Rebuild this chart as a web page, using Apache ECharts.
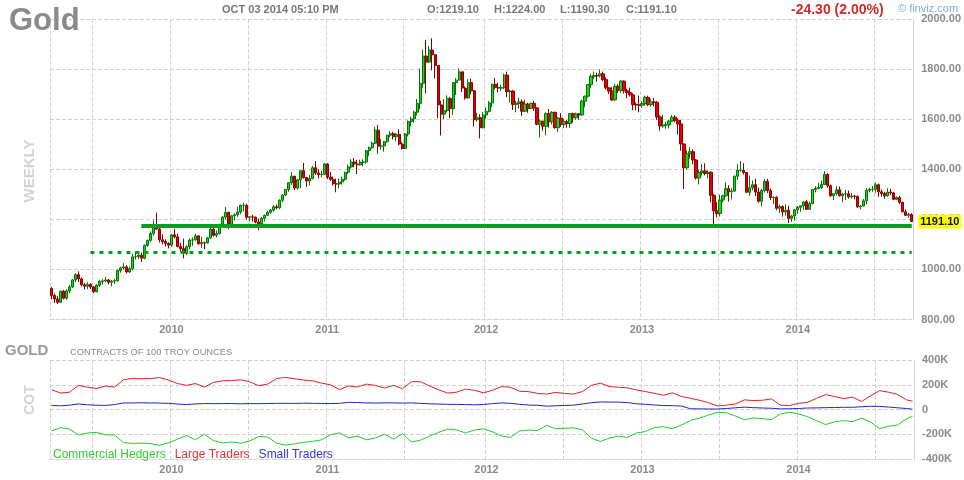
<!DOCTYPE html>
<html><head><meta charset="utf-8">
<script src="https://cdn.jsdelivr.net/npm/echarts@6/dist/echarts.min.js"></script>
<style>html,body{margin:0;padding:0;background:#fff}#c{width:964px;height:480px}</style>
</head><body><div id="c"></div>
<script>
// ---- weekly gold futures, week starting Monday 2009-03-30 ----
const firstWeekMonday = '2009-03-30';
const opens = [
924,896,882,869,913,885,914,930,958,979,962,939,933,940,930,911,937,952,954,958,949,953,955,996,1006,1010,990,1003,1050,1051,1057,1045,1096,1116,1143,1175,1161,1118,1111,1104,
1097,1138,1130,1092,1083,1064,1091,1117,1118,1134,1102,1107,1106,1126,1161,1136,1143,1180,1209,1228,1177,1214,1218,1229,1256,1256,1208,1210,1209,1189,1181,1204,1216,1228,1237,1250,1246,1276,1297,1319,1346,1372,1325,1358,1394,1367,1353,1363,1406,1385,1379,1380,
1421,1369,1360,1342,1341,1349,1360,1388,1409,1429,1421,1418,1428,1429,1474,1486,1504,1556,1492,1493,1510,1536,1542,1530,1539,1501,1483,1541,1591,1601,1628,1663,1743,1852,1828,1876,1857,1814,1657,1620,1635,1683,1642,1746,1756,1789,1724,1685,1746,1713,1598,1606,
1566,1617,1631,1665,1739,1726,1724,1726,1776,1710,1712,1659,1663,1669,1632,1660,1643,1663,1645,1580,1592,1572,1622,1590,1627,1566,1604,1579,1590,1583,1622,1606,1621,1617,1672,1692,1738,1771,1774,1773,1781,1758,1725,1712,1677,1731,1715,1752,1713,1706,1697,1658,
1657,1656,1662,1687,1658,1669,1667,1609,1573,1577,1577,1592,1608,1596,1581,1501,1406,1462,1470,1437,1365,1387,1393,1383,1388,1296,1234,1223,1277,1294,1322,1310,1313,1372,1396,1396,1387,1308,1326,1338,1309,1272,1315,1352,1315,1287,1288,1244,1251,1230,1236,1204,
1213,1238,1248,1254,1270,1240,1263,1319,1324,1327,1339,1379,1334,1294,1303,1318,1294,1301,1302,1290,1293,1292,1250,1253,1274,1316,1320,1320,1338,1310,1303,1294,1309,1306,1280,1287,1268,1230,1216,1219.1
];
const highs = [
930,904,893,915,918,920,938,962,985,992,968,946,949,945,934,941,958,961,970,962,958,961,999,1011,1025,1017,1011,1062,1072,1070,1067,1100,1119,1152,1196,1227,1165,1141,1120,1108,
1141,1162,1142,1106,1123,1096,1124,1128,1142,1136,1130,1111,1130,1168,1170,1156,1182,1212,1249,1230,1217,1224,1250,1259,1266,1262,1213,1218,1211,1203,1210,1219,1234,1242,1257,1260,1280,1301,1320,1349,1388,1374,1362,1398,1425,1369,1377,1413,1432,1401,1394,1424,
1424,1389,1371,1362,1363,1370,1390,1418,1440,1445,1438,1438,1440,1477,1491,1511,1569,1577,1521,1513,1538,1552,1550,1545,1559,1509,1545,1595,1610,1633,1681,1802,1878,1917,1892,1923,1859,1815,1673,1680,1695,1689,1748,1764,1803,1789,1731,1760,1763,1716,1625,1620,
1628,1648,1673,1742,1764,1745,1737,1782,1790,1718,1716,1673,1686,1679,1678,1666,1666,1673,1647,1599,1593,1628,1641,1632,1630,1608,1624,1602,1597,1625,1626,1626,1625,1677,1694,1741,1779,1790,1786,1798,1790,1767,1727,1728,1741,1739,1755,1755,1722,1726,1704,1667,
1694,1671,1694,1694,1681,1684,1673,1616,1618,1589,1597,1616,1616,1604,1597,1503,1476,1488,1480,1441,1398,1421,1424,1396,1392,1302,1269,1298,1298,1348,1336,1324,1375,1420,1433,1424,1389,1375,1355,1362,1327,1323,1361,1362,1323,1292,1292,1259,1256,1260,1255,1217,
1241,1253,1256,1271,1278,1270,1320,1332,1346,1355,1392,1385,1339,1303,1332,1331,1306,1317,1315,1306,1298,1295,1257,1281,1325,1326,1333,1347,1343,1319,1310,1324,1322,1308,1292,1294,1270,1239,1226,1224
];
const lows = [
881,866,862,866,880,879,906,925,950,950,932,920,922,922,905,908,930,940,950,940,932,942,951,987,1000,984,986,997,1040,1041,1030,1040,1090,1110,1136,1160,1107,1100,1091,1084,
1090,1124,1088,1071,1044,1057,1080,1094,1115,1100,1087,1081,1103,1122,1131,1128,1140,1166,1200,1160,1175,1196,1210,1221,1232,1198,1192,1191,1184,1157,1178,1192,1213,1222,1230,1240,1240,1268,1293,1310,1338,1317,1318,1324,1362,1330,1335,1360,1378,1363,1368,1377,
1361,1353,1335,1308,1324,1339,1354,1381,1403,1408,1381,1414,1412,1422,1453,1482,1501,1462,1478,1470,1506,1527,1519,1512,1495,1478,1482,1531,1571,1586,1615,1640,1726,1703,1824,1795,1763,1604,1535,1600,1627,1604,1617,1697,1755,1708,1678,1682,1700,1571,1590,1523,
1563,1603,1627,1648,1719,1707,1713,1720,1688,1667,1636,1627,1642,1613,1628,1625,1641,1633,1576,1527,1553,1536,1566,1579,1562,1549,1569,1565,1566,1565,1586,1598,1598,1614,1648,1686,1725,1760,1750,1767,1752,1718,1701,1673,1674,1705,1705,1702,1684,1690,1636,1635,
1627,1645,1654,1652,1650,1651,1597,1554,1566,1562,1563,1589,1588,1539,1474,1321,1399,1442,1420,1359,1339,1375,1375,1364,1268,1180,1207,1211,1267,1290,1271,1280,1309,1358,1390,1379,1306,1294,1316,1293,1267,1251,1307,1305,1277,1262,1236,1226,1211,1215,1185,1190,
1195,1222,1230,1238,1238,1238,1260,1307,1320,1321,1337,1326,1290,1277,1295,1291,1268,1277,1283,1283,1280,1245,1240,1251,1260,1307,1310,1306,1290,1290,1282,1290,1297,1276,1276,1262,1228,1214,1207,1190.3
];
const closes = [
896,882,869,913,885,914,930,958,979,962,939,933,940,930,911,937,952,954,958,949,953,955,996,1006,1010,990,1003,1050,1051,1057,1045,1096,1116,1143,1175,1161,1118,1111,1104,1097,
1138,1130,1092,1083,1064,1091,1117,1118,1134,1102,1107,1106,1126,1161,1136,1143,1180,1209,1228,1177,1214,1218,1229,1256,1256,1208,1210,1209,1189,1181,1204,1216,1228,1237,1250,1246,1276,1297,1319,1346,1372,1325,1358,1394,1367,1353,1363,1406,1385,1379,1380,1421,
1369,1360,1342,1341,1349,1360,1388,1409,1429,1421,1418,1428,1429,1474,1486,1504,1556,1492,1493,1510,1536,1542,1530,1539,1501,1483,1541,1591,1601,1628,1663,1743,1852,1828,1876,1857,1814,1657,1620,1635,1683,1642,1746,1756,1789,1724,1685,1746,1713,1598,1606,1566,
1617,1631,1665,1739,1726,1724,1726,1776,1710,1712,1659,1663,1669,1632,1660,1643,1663,1645,1580,1592,1572,1622,1590,1627,1566,1604,1579,1590,1583,1622,1606,1621,1617,1672,1692,1738,1771,1774,1773,1781,1758,1725,1712,1677,1731,1715,1752,1713,1706,1697,1658,1657,
1656,1662,1687,1658,1669,1667,1609,1573,1577,1577,1592,1608,1596,1581,1501,1406,1462,1470,1437,1365,1387,1393,1383,1388,1296,1234,1223,1277,1294,1322,1310,1313,1372,1396,1396,1387,1308,1326,1338,1309,1272,1315,1352,1315,1287,1288,1244,1251,1230,1236,1204,1213,
1238,1248,1254,1270,1240,1263,1319,1324,1327,1339,1379,1334,1294,1303,1318,1294,1301,1302,1290,1293,1292,1250,1253,1274,1316,1320,1320,1338,1310,1303,1294,1309,1306,1280,1287,1268,1230,1216,1219,1191.1
];
// drawn horizontal levels
const supportLevel = 1174;      // thick solid line
const supportStartWeek = 30;
const lowerLevel = 1070;        // dotted line
const lowerStartWeek = 13;

// ---- COT (thousands of contracts), sampled every 3rd week plus the last week ----
const cotCommercial = [-173,-147,-158,-205,-190,-185,-205,-205,-267,-274,-272,-275,-290,-270,-240,-210,-245,-200,-252,-270,
-262,-272,-255,-218,-222,-272,-288,-278,-265,-258,-245,-205,-188,-230,-215,-245,-230,-200,-240,-195,
-262,-248,-215,-185,-158,-165,-190,-165,-157,-180,-215,-225,-173,-166,-170,-128,-155,-152,-147,-165,
-232,-259,-230,-215,-225,-190,-178,-145,-140,-155,-125,-88,-70,-45,-22,-27,-53,-83,-68,-74,
-82,-35,-22,-35,-58,-90,-122,-100,-90,-98,-70,-100,-155,-135,-125,-75,-55];
const cotLarge = [160,133,140,195,180,170,190,181,240,252,248,250,258,238,210,195,210,181,219,232,
234,240,225,192,205,250,260,248,238,232,213,200,160,190,182,205,195,173,195,168,
225,225,190,160,133,140,165,155,135,155,185,180,147,145,130,125,138,130,125,145,
195,213,185,180,175,158,145,130,115,135,105,90,75,55,28,35,45,78,72,75,
85,35,32,50,58,90,120,105,88,100,65,110,152,140,122,78,67];
const cotSmall = [32,30,35,45,38,35,33,40,53,53,54,53,52,50,44,40,45,48,47,48,
48,46,48,47,48,50,50,49,51,50,49,48,50,58,56,53,52,54,53,52,
53,50,46,44,42,41,40,38,40,48,53,50,42,36,34,27,30,33,35,45,
55,61,60,60,56,46,42,36,32,31,28,6,5,4,4,8,14,19,15,12,
10,5,6,8,12,13,15,16,18,18,22,26,25,20,14,8,2];
const cotNames = ['Commercial Hedgers','Large Traders','Small Traders'];

// ---- header texts ----
const headerDate = 'OCT 03 2014 05:10 PM';
const headerOHLC = ['O:1219.10','H:1224.00','L:1190.30','C:1191.10'];
const headerChange = '-24.30 (2.00%)';

// ---------------------------------------------------------------
const FONT = '"Liberation Sans", Arial, Helvetica, sans-serif';
const GRAY = '#8a8a8a';
const GRID_LINE = '#d2d2d2';
const DAY = 86400000;
const t0 = Date.parse(firstWeekMonday + 'T00:00:00Z');
const weekDates = closes.map((_, i) => new Date(t0 + i * 7 * DAY));
const categories = weekDates.map(d => d.toISOString().slice(0, 10));
function isHalfYearMark(i) {
  const d = weekDates[i];
  if (!d) return false;
  const m = d.getUTCMonth(), day = d.getUTCDate();
  return (m === 0 || m === 6) && day >= 3 && day <= 9;
}
function isYearMark(i) { return isHalfYearMark(i) && weekDates[i].getUTCMonth() === 0; }
const last = closes.length - 1;
const candleData = closes.map((c, i) => [opens[i], c, lows[i], highs[i]]);
const cotWeeks = cotLarge.map((_, k) => k < cotLarge.length - 1 ? k * 3 : last);
function spread(vals) {
  const a = new Array(closes.length).fill(null);
  cotWeeks.forEach((w, k) => { a[w] = vals[k]; });
  return a;
}

function makeX(gridIndex) {
  return {
    type: 'category', gridIndex, data: categories, boundaryGap: true,
    axisLine: { show: true, onZero: false, lineStyle: { color: GRID_LINE, type: 'dashed' } },
    axisTick: { show: false },
    axisLabel: {
      interval: (i) => isYearMark(i), formatter: (v) => v.slice(0, 4),
      color: GRAY, fontFamily: FONT, fontWeight: 'bold', fontSize: 11, margin: 5
    },
    splitLine: { show: true, interval: (i) => i === 0 || isHalfYearMark(i),
      lineStyle: { color: GRID_LINE, type: 'dashed', width: 1 } }
  };
}

const chart = echarts.init(document.getElementById('c'), null, { renderer: 'canvas' });
const option = {
  animation: false,
  backgroundColor: '#ffffff',
  title: {
    text: 'Gold', left: 4, top: 1,
    textStyle: { color: '#8a8a8a', fontFamily: FONT, fontWeight: 'bold', fontSize: 31 }
  },
  legend: {
    left: 43, top: 444, itemWidth: 0, itemHeight: 0, itemGap: 4, icon: 'rect', selectedMode: false,
    data: [
      { name: cotNames[0], textStyle: { color: '#33cc33' } },
      { name: cotNames[1], textStyle: { color: '#dd3333' } },
      { name: cotNames[2], textStyle: { color: '#3333dd' } }
    ],
    textStyle: { fontFamily: FONT, fontSize: 12 }
  },
  grid: [
    { left: 50, right: 50, top: 19, bottom: 160.5 },
    { left: 50, right: 50, top: 360, bottom: 21 }
  ],
  xAxis: [makeX(0), makeX(1)],
  yAxis: [
    {
      type: 'value', gridIndex: 0, position: 'right', min: 800, max: 2000, interval: 200,
      axisLine: { show: true, lineStyle: { color: GRID_LINE, type: 'dashed' } },
      axisTick: { show: false },
      axisLabel: { formatter: (v) => v.toFixed(2), color: GRAY, fontFamily: FONT, fontWeight: 'bold', fontSize: 11, margin: 8 },
      splitLine: { lineStyle: { color: GRID_LINE, type: 'dashed' } }
    },
    {
      type: 'value', gridIndex: 1, position: 'right', min: -400, max: 400, interval: 200,
      axisLine: { show: true, lineStyle: { color: GRID_LINE, type: 'dashed' } },
      axisTick: { show: false },
      axisLabel: { formatter: (v) => v === 0 ? '0' : v + 'K', color: GRAY, fontFamily: FONT, fontWeight: 'bold', fontSize: 11, margin: 8 },
      splitLine: { lineStyle: { color: GRID_LINE, type: 'dashed' } }
    }
  ],
  series: [
    {
      type: 'candlestick', name: 'Gold', xAxisIndex: 0, yAxisIndex: 0,
      data: candleData, barWidth: '90%',
      itemStyle: {
        color: '#10e010', color0: '#e80000',
        borderColor: '#0a6e0a', borderColor0: '#8a0000', borderWidth: 1
      },
      emphasis: { disabled: true },
      markLine: {
        silent: true, symbol: ['none', 'none'], animation: false,
        data: [
          [ { coord: [supportStartWeek, supportLevel] }, { coord: [last, supportLevel] } ],
          [ { coord: [lowerStartWeek, lowerLevel], lineStyle: { color: '#00a020', width: 3, type: [4, 5] } },
            { coord: [last, lowerLevel] } ],
          { yAxis: closes[last], lineStyle: { color: 'rgba(0,0,0,0)', width: 0 },
            label: { show: true, position: 'end', distance: 5, formatter: closes[last].toFixed(2),
              backgroundColor: '#ffff00', color: '#111', fontFamily: FONT, fontWeight: 'bold', fontSize: 11, padding: [2, 2, 1, 2] } }
        ],
        lineStyle: { color: '#00a020', width: 4, type: 'solid' },
        label: { show: false }
      }
    },
    {
      type: 'line', name: cotNames[0], xAxisIndex: 1, yAxisIndex: 1, data: spread(cotCommercial),
      connectNulls: true, showSymbol: false, symbol: 'none',
      lineStyle: { color: '#22cc22', width: 1 }, itemStyle: { color: '#22cc22' }
    },
    {
      type: 'line', name: cotNames[1], xAxisIndex: 1, yAxisIndex: 1, data: spread(cotLarge),
      connectNulls: true, showSymbol: false, symbol: 'none',
      lineStyle: { color: '#dd2222', width: 1 }, itemStyle: { color: '#dd2222' }
    },
    {
      type: 'line', name: cotNames[2], xAxisIndex: 1, yAxisIndex: 1, data: spread(cotSmall),
      connectNulls: true, showSymbol: false, symbol: 'none',
      lineStyle: { color: '#2222cc', width: 1 }, itemStyle: { color: '#2222cc' }
    }
  ],
  graphic: [
    { type: 'text', x: 222, y: 10, style: { text: headerDate, fill: '#777', font: 'bold 11px ' + FONT, verticalAlign: 'middle' } },
    { type: 'text', x: 427, y: 10, style: { text: headerOHLC[0], fill: '#777', font: 'bold 11px ' + FONT, verticalAlign: 'middle' } },
    { type: 'text', x: 494, y: 10, style: { text: headerOHLC[1], fill: '#777', font: 'bold 11px ' + FONT, verticalAlign: 'middle' } },
    { type: 'text', x: 560, y: 10, style: { text: headerOHLC[2], fill: '#777', font: 'bold 11px ' + FONT, verticalAlign: 'middle' } },
    { type: 'text', x: 626, y: 10, style: { text: headerOHLC[3], fill: '#777', font: 'bold 11px ' + FONT, verticalAlign: 'middle' } },
    { type: 'text', x: 791, y: 10, style: { text: headerChange, fill: '#d42a2a', font: 'bold 14px ' + FONT, verticalAlign: 'middle' } },
    { type: 'text', x: 898, y: 9, style: { text: '\u00A9 finviz.com', fill: '#7aaee0', font: '11px ' + FONT, verticalAlign: 'middle' } },
    { type: 'text', x: 30, y: 171, rotation: Math.PI / 2, style: { text: 'WEEKLY', fill: '#d3d3d3', font: 'bold 15px ' + FONT, align: 'center', verticalAlign: 'middle' } },
    { type: 'text', x: 5, y: 351, style: { text: 'GOLD', fill: '#9a9a9a', font: 'bold 15px ' + FONT, verticalAlign: 'middle' } },
    { type: 'text', x: 70, y: 352, style: { text: 'CONTRACTS OF 100 TROY OUNCES', fill: '#888', font: '9.3px ' + FONT, verticalAlign: 'middle' } },
    { type: 'text', x: 30, y: 400, rotation: Math.PI / 2, style: { text: 'COT', fill: '#d3d3d3', font: 'bold 14px ' + FONT, align: 'center', verticalAlign: 'middle' } }
  ]
};
chart.setOption(option);
</script>
</body></html>
